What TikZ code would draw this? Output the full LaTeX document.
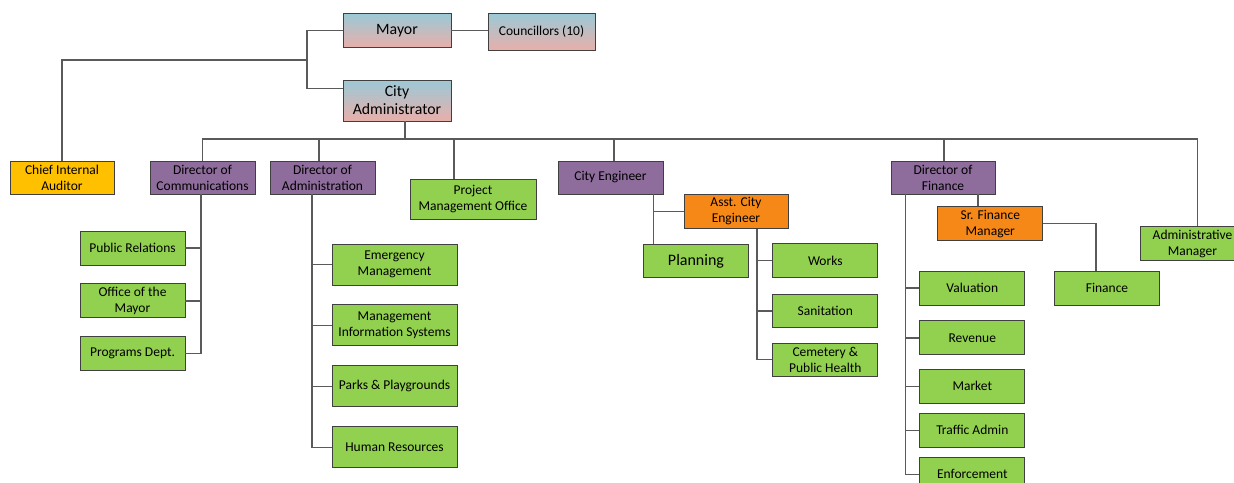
\documentclass[tikz,border=0pt]{standalone}
\usepackage{fontspec}
\setmainfont{Carlito}
\usetikzlibrary{positioning}

\definecolor{boxline}{RGB}{64,64,64}
\definecolor{linkgray}{RGB}{90,90,90}
\definecolor{unitgreen}{RGB}{146,208,80}
\definecolor{dirpurple}{RGB}{142,108,155}
\definecolor{deporange}{RGB}{246,136,24}
\definecolor{auditgold}{RGB}{255,192,0}
\definecolor{leadtop}{RGB}{155,201,214}
\definecolor{leadbot}{RGB}{232,175,170}

\tikzset{
  box/.style={draw=boxline, line width=0.9pt, inner sep=1pt, align=center,
    minimum width=105pt, minimum height=34pt, font=\fontsize{13.5}{16}\selectfont},
  lead/.style={box, top color=leadtop, bottom color=leadbot},
  director/.style={box, fill=dirpurple, minimum height=33pt},
  deputy/.style={box, fill=deporange},
  audit/.style={box, fill=auditgold, minimum height=33pt},
  unit/.style={box, fill=unitgreen},
  link/.style={draw=linkgray, line width=1.2pt}
}

\begin{document}
\begin{tikzpicture}[x=1pt, y=-1pt, node distance=18pt]
  \useasboundingbox (0,0) rectangle (1234,482);

  % top
  \node[lead, minimum width=108pt, font=\fontsize{15.8}{18}\selectfont] (mayor) at (397,30.5) {Mayor};
  \node[lead, minimum width=107pt, minimum height=37pt] (council) at (541.5,31.5) {Councillors (10)};
  \node[lead, minimum width=108pt, minimum height=41pt, font=\fontsize{15.8}{18}\selectfont] (cityadm) at (397,100.5) {City\\Administrator};

  % second row
  \node[audit, minimum width=104pt] (auditor) at (62,177.5) {Chief Internal\\Auditor};
  \node[director] (dirc) at (202.5,177.5) {Director of\\Communications};
  \node[director] (dira) at (322.5,177.5) {Director of\\Administration};
  \node[unit, minimum width=126pt, minimum height=40pt] (pmo) at (473,199) {Project\\Management Office};
  \node[director] (ceng) at (610.5,177.5) {City Engineer};
  \node[director, minimum width=104pt] (dirf) at (943,177.5) {Director of\\Finance};
  \node[unit] (admmgr) at (1192.5,243.7) {Administrative\\Manager};

  % communications
  \node[unit] (pr) at (132.5,248) {Public Relations};
  \node[unit, below=of pr] (ofm) {Office of the\\Mayor};
  \node[unit, below=of ofm] (prog) {Programs Dept.};

  % administration
  \node[unit, minimum width=125pt, minimum height=41pt] (emerg) at (394.5,264.5) {Emergency\\Management};
  \node[unit, minimum width=125pt, minimum height=41pt, below=19pt of emerg] (mis) {Management\\Information Systems};
  \node[unit, minimum width=125pt, minimum height=41pt, below=19pt of mis] (parks) {Parks \& Playgrounds};
  \node[unit, minimum width=125pt, minimum height=41pt, below=19pt of parks] (hr) {Human Resources};

  % engineering
  \node[deputy, minimum width=104pt] (asst) at (736,211.5) {Asst. City\\Engineer};
  \node[unit, minimum height=33pt, font=\fontsize{16}{18}\selectfont] (plan) at (696,261) {Planning};
  \node[unit] (works) at (825.3,260.5) {Works};
  \node[unit, minimum height=33pt, below=16pt of works] (san) {Sanitation};
  \node[unit, minimum height=33pt, below=15pt of san] (cem) {Cemetery \&\\Public Health};

  % finance
  \node[deputy] (sfm) at (990.3,223.8) {Sr. Finance\\Manager};
  \node[unit] (fin) at (1107,288) {Finance};
  \node[unit] (val) at (972.3,288) {Valuation};
  \node[unit, below=15pt of val] (rev) {Revenue};
  \node[unit, below=13.5pt of rev] (mkt) {Market};
  \node[unit, below=9pt of mkt] (traf) {Traffic Admin};
  \node[unit, below=9pt of traf] (enf) {Enforcement};

  % connectors
  \coordinate (split) at (307,60);
  \coordinate (bus) at (405,139);
  \draw[link] (mayor.east) -- (mayor.east -| council.west);
  \draw[link] (mayor.west) -| (split) |- ([yshift=12pt]cityadm.west);
  \draw[link] (split) -| (auditor.north);
  \draw[link] (cityadm.south -| bus) -- (bus);
  \draw[link] (dirc.north) |- (bus) -| ([xshift=5pt]admmgr.north);
  \foreach \x/\n in {319/dira, 454/pmo, 614/ceng, 944/dirf}
    \draw[link] (\x,139) -- (\x,139 |- \n.north);

  \foreach \n in {pr, ofm, prog}
    \draw[link] (\n.east) -| ([xshift=-1.5pt]dirc.south);

  \coordinate (adrop) at ([xshift=-10.5pt]dira.south);
  \foreach \n in {emerg, mis, parks, hr}
    \draw[link] (\n.west) -| (adrop);

  \coordinate (cdrop) at ([xshift=43pt]ceng.south);
  \draw[link] (cdrop) -- (cdrop |- plan.north);
  \draw[link] (cdrop |- asst.west) -- (asst.west);
  \coordinate (edrop) at ([xshift=21pt]asst.south);
  \foreach \n in {works, san, cem}
    \draw[link] (\n.west) -| (edrop);

  \coordinate (fdrop) at ([xshift=-37.5pt]dirf.south);
  \foreach \n in {val, rev, mkt, traf, enf}
    \draw[link] (\n.west) -| (fdrop);
  \draw[link] ([xshift=35pt]dirf.south) -- ([xshift=35pt]dirf.south |- sfm.north);
  \draw[link] (sfm.east) -| ([xshift=-11pt]fin.north);
\end{tikzpicture}
\end{document}
